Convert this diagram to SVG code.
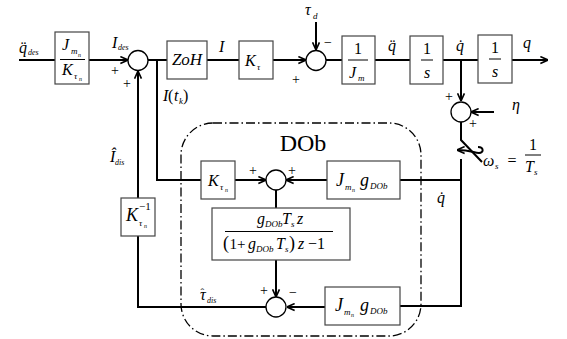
<svg xmlns="http://www.w3.org/2000/svg" width="567" height="339" viewBox="0 0 567 339">
<defs>
<style>
.box{fill:#fff;stroke:#444;stroke-width:1.2}
.sum{fill:#fff;stroke:#000;stroke-width:1.3}
.ln{fill:none;stroke:#000;stroke-width:2}
.fl{stroke:#000;stroke-width:1}
.m{font-family:"Liberation Serif","Times New Roman",serif;font-style:italic;font-size:16px;fill:#000}
.n{font-family:"Liberation Serif","Times New Roman",serif;font-style:normal;font-size:16px;fill:#000}
.s{font-size:9px}
.ss{font-size:6px}
.sg{font-family:"Liberation Serif",serif;font-size:14px;fill:#000}
.c{text-anchor:middle}
</style>
<marker id="ah" viewBox="0 0 10 10" refX="9.5" refY="5" markerWidth="9" markerHeight="9" orient="auto" markerUnits="userSpaceOnUse">
<path d="M1,1.2 L9.5,5 L1,8.8" fill="none" stroke="#000" stroke-width="1.8"/>
</marker>
</defs>

<g id="connectors">
<path class="ln" d="M19,60 H55"/>
<path class="ln" d="M89,60 H128" marker-end="url(#ah)"/>
<path class="ln" d="M148,60 H167"/>
<path class="ln" d="M157,60 V180 H201"/>
<path class="ln" d="M207,60 H239"/>
<path class="ln" d="M273,60 H306" marker-end="url(#ah)"/>
<path class="ln" d="M316,22 V50" marker-end="url(#ah)"/>
<path class="ln" d="M326,60 H342"/>
<path class="ln" d="M375,60 H410"/>
<path class="ln" d="M443,60 H478"/>
<path class="ln" d="M512,60 H548" marker-end="url(#ah)"/>
<path class="ln" d="M461,60 V101" marker-end="url(#ah)"/>
<path class="ln" d="M494,112 H471" marker-end="url(#ah)"/>
<path class="ln" d="M461,122 V140 L482,162"/>
<path class="ln" d="M478,147 C484,147 484,153 479,153 C474,153 471,150 457,150" stroke-width="1.5" marker-end="url(#ah)"/>
<path class="ln" d="M461,159 V306 H400"/>
<path class="ln" d="M461,180 H400"/>
<path class="ln" d="M327,180 H286" marker-end="url(#ah)"/>
<path class="ln" d="M235,180 H266" marker-end="url(#ah)"/>
<path class="ln" d="M276,190 V208"/>
<path class="ln" d="M276,260 V297" marker-end="url(#ah)"/>
<path class="ln" d="M325,307 H287" marker-end="url(#ah)"/>
<path class="ln" d="M266,307 H138 V236"/>
<path class="ln" d="M138,198 V71" marker-end="url(#ah)"/>
</g>

<g id="dob-frame">
<rect x="181" y="123" width="240" height="213" rx="32" fill="none" stroke="#000" stroke-width="1.3" stroke-dasharray="9 3 1.5 3"/>
<text class="n c" x="303" y="151" style="font-size:24px">DOb</text>
</g>

<g id="gain-in">
<rect class="box" x="55" y="32" width="34" height="52"/>
<text class="m" x="62" y="50">J</text><text class="m s" x="71" y="54">m</text><text class="m ss" x="78" y="57">n</text>
<line class="fl" x1="60" y1="59.5" x2="85" y2="59.5"/>
<text class="m" x="62" y="75">K</text><text class="m s" x="74" y="79">τ</text><text class="m ss" x="79" y="81">n</text>
</g>

<g id="sum1">
<circle class="sum" cx="138" cy="60.5" r="10"/>
</g>

<g id="zoh">
<rect class="box" x="167" y="41" width="40" height="38"/>
<text class="m c" x="187" y="65" style="font-size:17px">ZoH</text>
</g>

<g id="ktau">
<rect class="box" x="239" y="41" width="34" height="38"/>
<text class="m" x="245" y="66">K</text><text class="m s" x="257" y="70">τ</text>
</g>

<g id="sum2">
<circle class="sum" cx="316" cy="60.5" r="10"/>
</g>

<g id="inv-jm">
<rect class="box" x="342" y="36" width="33" height="48"/>
<text class="n c" x="358" y="54">1</text>
<line class="fl" x1="348" y1="60" x2="368" y2="60"/>
<text class="m" x="349" y="78">J</text><text class="m s" x="358" y="81">m</text>
</g>

<g id="int1">
<rect class="box" x="410" y="36" width="33" height="48"/>
<text class="n c" x="427" y="54">1</text>
<line class="fl" x1="421" y1="60" x2="433" y2="60"/>
<text class="m c" x="427" y="78">s</text>
</g>

<g id="int2">
<rect class="box" x="478" y="35" width="34" height="48"/>
<text class="n c" x="495" y="53">1</text>
<line class="fl" x1="489" y1="59" x2="501" y2="59"/>
<text class="m c" x="495" y="77">s</text>
</g>

<g id="sum3">
<circle class="sum" cx="461" cy="112" r="10"/>
</g>

<g id="k-dob">
<rect class="box" x="201" y="161" width="34" height="38"/>
<text class="m" x="208" y="186">K</text><text class="m s" x="220" y="190">τ</text><text class="m ss" x="225" y="192">n</text>
</g>

<g id="sum4">
<circle class="sum" cx="276" cy="180" r="10"/>
</g>

<g id="jg-upper">
<rect class="box" x="327" y="161" width="73" height="38"/>
<text class="m" x="336" y="186" style="font-size:18px">J</text><text class="m s" x="345" y="190">m</text><text class="m ss" x="352" y="192">n</text>
<text class="m" x="360" y="186" style="font-size:18px">g</text><text class="m s" x="370" y="189">DOb</text>
</g>

<g id="filter">
<rect class="box" x="212" y="208" width="138" height="52"/>
<text class="m" x="257" y="224">g</text><text class="m s" x="265" y="227">DOb</text><text class="m" x="282" y="224">T</text><text class="m s" x="291" y="227">s</text><text class="m" x="297" y="224">z</text>
<line class="fl" x1="225" y1="231.5" x2="333" y2="231.5"/>
<text class="n" x="223" y="249" style="font-size:18px">(</text><text class="n" x="229.5" y="249" style="font-size:15px">1+</text>
<text class="m" x="248" y="249">g</text><text class="m s" x="256" y="252">DOb</text><text class="m" x="276" y="249">T</text><text class="m s" x="285" y="252">s</text>
<text class="n" x="289" y="249" style="font-size:18px">)</text><text class="m" x="298" y="249">z</text><text class="n" x="308" y="249">−1</text>
</g>

<g id="jg-lower">
<rect class="box" x="325" y="287" width="75" height="38"/>
<text class="m" x="335" y="311" style="font-size:18px">J</text><text class="m s" x="344" y="315">m</text><text class="m ss" x="351" y="317">n</text>
<text class="m" x="360" y="311" style="font-size:18px">g</text><text class="m s" x="370" y="314">DOb</text>
</g>

<g id="sum5">
<circle class="sum" cx="276" cy="307" r="10"/>
</g>

<g id="kinv">
<rect class="box" x="121" y="198" width="34" height="38"/>
<text class="m" x="126" y="221" style="font-size:18px">K</text><text class="n" x="139" y="210" style="font-size:11px">−1</text>
<text class="m s" x="139" y="226">τ</text><text class="m ss" x="144" y="228">n</text>
</g>

<g id="labels">
<text class="m" x="19" y="53">q̈</text><text class="m s" x="28" y="55" style="font-size:8px">des</text>
<text class="m" x="112" y="48">I</text><text class="m s" x="118" y="50" style="font-size:8px">des</text>
<text class="sg" x="111" y="75">+</text>
<text class="sg" x="123" y="88">+</text>
<text class="m" x="163" y="101">I</text><text class="n" x="168" y="101">(</text><text class="m" x="174" y="101">t</text><text class="m s" x="179" y="104">k</text><text class="n" x="183" y="101">)</text>
<text class="m" x="219" y="52">I</text>
<text class="m" x="305" y="15">τ</text><text class="m s" x="313" y="19">d</text>
<text class="sg" x="324" y="47">−</text>
<text class="sg" x="292" y="84">+</text>
<text class="m" x="388" y="51">q̈</text>
<text class="m" x="456" y="51">q̇</text>
<text class="m" x="523" y="48">q</text>
<text class="sg" x="445" y="101">+</text>
<text class="sg" x="469" y="128">+</text>
<text class="m" x="512" y="110">η</text>
<text class="m" x="483" y="166">ω</text><text class="m s" x="495" y="169">s</text>
<text class="n c" x="512" y="166">=</text>
<text class="n c" x="533" y="150">1</text>
<line class="fl" x1="525" y1="155" x2="541" y2="155"/>
<text class="m" x="525" y="172">T</text><text class="m s" x="534" y="175">s</text>
<text class="m" x="110" y="162">Î</text><text class="m s" x="115" y="165" style="font-size:8px">dis</text>
<text class="sg" x="249" y="175">+</text>
<text class="sg" x="288" y="175">+</text>
<text class="m" x="437" y="203">q̇</text>
<text class="m" x="200" y="300">τ</text><text class="n" x="200.5" y="296" style="font-size:11px">ˆ</text><text class="m s" x="207" y="303" style="font-size:8px">dis</text>
<text class="sg" x="260" y="295">+</text>
<text class="sg" x="289" y="297">−</text>
</g>
</svg>
